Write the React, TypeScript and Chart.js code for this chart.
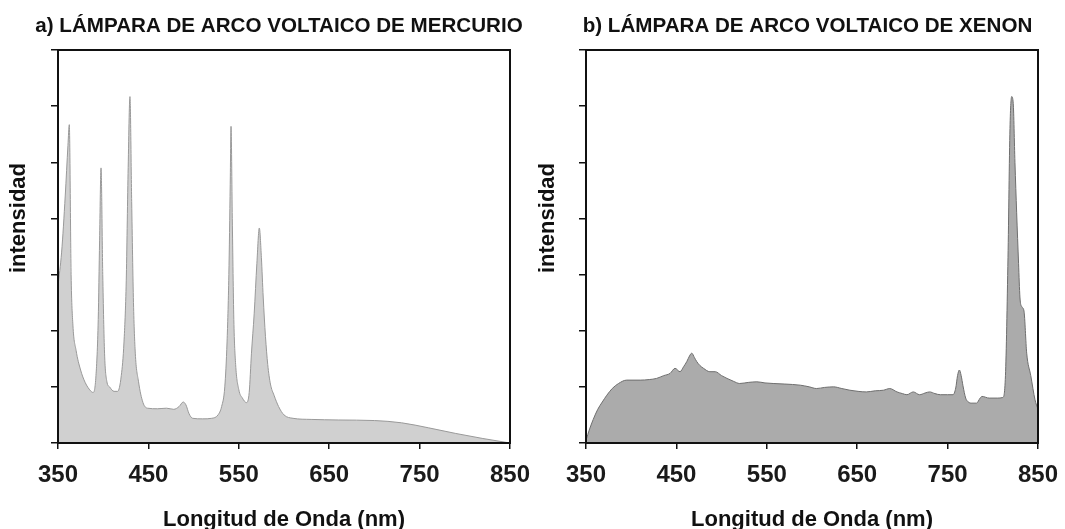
import React, { useEffect, useRef } from "react";
import { Chart, registerables } from "chart.js";

Chart.register(...registerables);

// ---- data ----
const xTickValues = [350, 450, 550, 650, 750, 850];
const yTickValues = [0, 1, 2, 3, 4, 5, 6, 7];

const titleA = "a) LÁMPARA DE ARCO VOLTAICO DE MERCURIO";
const titleB = "b) LÁMPARA DE ARCO VOLTAICO DE XENON";
const xAxisTitle = "Longitud de Onda (nm)";
const yAxisTitle = "intensidad";

const hgWavelength = [
  350, 354, 358, 361, 362.5, 364.5, 366.5, 370, 375, 380, 386, 389, 392, 394.5, 396, 397.6,
  399.5, 401.5, 404, 407, 412, 416, 420, 423, 425.5, 427.5, 429.6, 431.5, 433.5, 435.5, 439,
  444, 449, 460, 470, 478, 484, 488.5, 491.5, 495, 499, 510, 520, 527, 531, 534.5, 537, 539,
  540.5, 541.4, 542.8, 544.5, 546.5, 550, 554, 558.5, 561.5, 564, 567, 570, 572.7, 575, 577,
  579.5, 582, 585, 589, 594, 600, 610, 630, 660, 700, 730, 760, 790, 820, 850,
];
const hgIntensity = [
  2.8, 3.4, 4.4, 5.3, 5.67, 3.0, 2.1, 1.65, 1.3, 1.08, 0.93, 0.9, 1.2, 2.2, 3.6, 4.9,
  3.0, 1.6, 1.1, 1.0, 0.92, 0.92, 1.2, 1.8, 2.9, 4.8, 6.17, 4.3, 2.5, 1.6, 1.1,
  0.72, 0.62, 0.61, 0.62, 0.6, 0.65, 0.73, 0.68, 0.52, 0.44, 0.43, 0.44, 0.5, 0.65, 1.0, 1.8, 3.0,
  4.6, 5.64, 4.0, 2.2, 1.4, 0.95, 0.8, 0.72, 0.9, 1.6, 2.3, 3.2, 3.83, 3.3, 2.6,
  1.9, 1.4, 1.05, 0.85, 0.65, 0.5, 0.44, 0.42, 0.41, 0.4, 0.36, 0.27, 0.17, 0.08, 0.0,
];

const xeWavelength = [
  350, 354, 358, 363, 368, 373, 379, 386, 395, 410, 420, 428, 436, 443, 448.5, 454, 458, 461.5,
  464.5, 467, 470, 472.5, 476, 480, 487, 493, 500, 506, 513, 520, 530, 539, 548, 557, 570, 587,
  597, 605, 614, 624, 633, 642, 651, 660, 670, 679, 686, 694, 700, 705, 712, 719, 725, 730, 736,
  742, 750, 756, 759, 761, 763, 765, 767, 770, 773, 777, 782, 786, 788, 796, 805, 811, 814,
  816.8, 819, 820.9, 822.6, 824.5, 826.4, 828.5, 830, 832, 834.5, 837.5, 842, 846.7, 850,
];
const xeIntensity = [
  0.05, 0.25, 0.42, 0.6, 0.73, 0.85, 0.97, 1.06, 1.12, 1.12, 1.13, 1.15, 1.2, 1.24, 1.33, 1.27, 1.36, 1.45,
  1.55, 1.6, 1.52, 1.45, 1.38, 1.33, 1.27, 1.27, 1.2, 1.15, 1.1, 1.06, 1.08, 1.09, 1.07, 1.06, 1.05, 1.03,
  1.0, 0.97, 0.99, 1.0, 0.97, 0.94, 0.92, 0.91, 0.93, 0.94, 0.97, 0.91, 0.88, 0.86, 0.91, 0.86, 0.89, 0.91, 0.88,
  0.86, 0.86, 0.86, 0.98, 1.2, 1.3, 1.2, 1.02, 0.8, 0.73, 0.71, 0.71, 0.8, 0.83, 0.8, 0.8, 0.81, 1.2,
  3.3, 5.6, 6.17, 6.05, 5.0, 4.1, 3.2, 2.6, 2.43, 2.35, 1.6, 1.2, 0.77, 0.6,
];

const FONT = "'Liberation Sans', Arial, sans-serif";

// ---- plugins ----
const framePlugin = {
  id: "frame",
  afterDatasetsDraw(chart: any) {
    const { ctx, chartArea } = chart;
    const { left, top, right, bottom } = chartArea;
    ctx.save();
    ctx.strokeStyle = "#111";
    ctx.lineWidth = 2;
    ctx.strokeRect(left, top, right - left, bottom - top);
    ctx.restore();
  },
};

// draws the panel title and the y-axis title as canvas text
const textPlugin = {
  id: "panelText",
  afterDraw(chart: any, _args: any, opts: any) {
    const { ctx } = chart;
    ctx.save();
    ctx.fillStyle = "#111";
    ctx.textAlign = "center";
    ctx.textBaseline = "middle";
    ctx.font = `bold 20.6px ${FONT}`;
    ctx.fillText(opts.title, opts.titleX, 26);
    ctx.font = `bold 22px ${FONT}`;
    ctx.translate(opts.yTitleX, 218);
    ctx.rotate(-Math.PI / 2);
    ctx.fillText(opts.yTitle, 0, 0);
    ctx.restore();
  },
};

type SpecProps = {
  title: string;
  titleX: number;
  wl: number[];
  vals: number[];
  fillColor: string;
  lineColor: string;
  yAxisWidth: number;
  padRight: number;
  yTitleX: number;
  width: number;
  left: number;
};

function SpectrumChart(p: SpecProps) {
  const ref = useRef<HTMLCanvasElement | null>(null);
  useEffect(() => {
    if (!ref.current) return;
    const chart = new Chart(ref.current, {
      type: "line",
      data: {
        datasets: [
          {
            data: p.wl.map((x, i) => ({ x, y: p.vals[i] })),
            backgroundColor: p.fillColor,
            borderColor: p.lineColor,
            borderWidth: 1,
            pointRadius: 0,
            fill: "origin",
            cubicInterpolationMode: "monotone",
          },
        ],
      },
      options: {
        animation: false,
        responsive: false,
        maintainAspectRatio: false,
        layout: { padding: { left: 0, right: p.padRight, top: 50, bottom: 0 } },
        plugins: {
          legend: { display: false },
          tooltip: { enabled: false },
          title: { display: false },
          panelText: { title: p.title, titleX: p.titleX, yTitle: yAxisTitle, yTitleX: p.yTitleX },
        } as any,
        scales: {
          x: {
            type: "linear",
            min: 350,
            max: 850,
            afterBuildTicks: (scale: any) => {
              scale.ticks = xTickValues.map((v) => ({ value: v }));
            },
            afterFit: (scale: any) => {
              scale.height = 86;
              scale.paddingLeft = 0;
              scale.paddingRight = 0;
            },
            grid: { drawOnChartArea: false, drawTicks: true, tickLength: 6, color: "#111", lineWidth: 1.5 },
            border: { display: true, color: "#111", width: 2 },
            ticks: {
              color: "#1a1a1a",
              padding: 12,
              maxRotation: 0,
              autoSkip: false,
              font: { family: FONT, size: 24, weight: "bold" },
            },
            title: {
              display: true,
              text: xAxisTitle,
              color: "#111",
              font: { family: FONT, size: 22, weight: "bold", lineHeight: 1.2 },
              padding: { top: 0, bottom: -4 },
            },
          },
          y: {
            type: "linear",
            min: 0,
            max: 7,
            afterBuildTicks: (scale: any) => {
              scale.ticks = yTickValues.map((v) => ({ value: v }));
            },
            afterFit: (scale: any) => {
              scale.width = p.yAxisWidth;
              scale.paddingTop = 0;
              scale.paddingBottom = 0;
            },
            grid: { drawOnChartArea: false, drawTicks: true, tickLength: 7, color: "#111", lineWidth: 1.5 },
            border: { display: true, color: "#111", width: 2 },
            ticks: { display: false },
          },
        },
      },
      plugins: [framePlugin, textPlugin],
    } as any);
    return () => chart.destroy();
  }, []);
  return (
    <canvas
      ref={ref}
      width={p.width}
      height={529}
      style={{ position: "absolute", left: p.left, top: 0, width: p.width, height: 529 }}
    />
  );
}

export default function App() {
  return (
    <div
      style={{
        position: "fixed",
        left: 0,
        top: 0,
        width: 1065,
        height: 529,
        background: "#fff",
        overflow: "hidden",
      }}
    >
      <SpectrumChart
        title={titleA}
        titleX={279}
        wl={hgWavelength}
        vals={hgIntensity}
        fillColor="#d0d0d0"
        lineColor="#999999"
        yAxisWidth={58}
        padRight={22}
        yTitleX={19}
        width={532}
        left={0}
      />
      <SpectrumChart
        title={titleB}
        titleX={275.5}
        wl={xeWavelength}
        vals={xeIntensity}
        fillColor="#ababab"
        lineColor="#6e6e6e"
        yAxisWidth={54}
        padRight={27}
        yTitleX={16}
        width={533}
        left={532}
      />
    </div>
  );
}
